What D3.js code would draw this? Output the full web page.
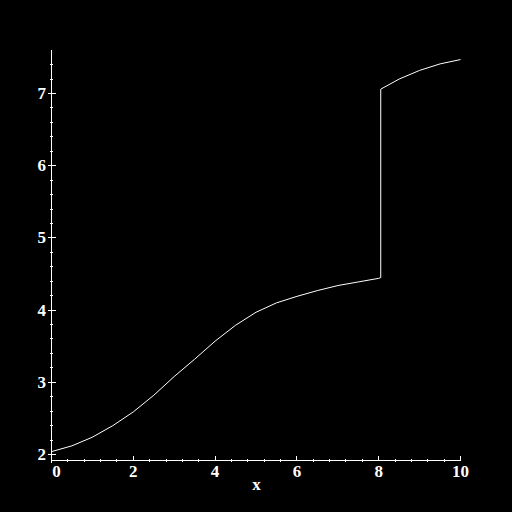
<!DOCTYPE html>
<html>
<head>
<meta charset="utf-8">
<script src="https://cdn.jsdelivr.net/npm/d3@7"></script>
<style>
  html, body { margin: 0; padding: 0; background: #000; }
  svg { display: block; }
  text { font-family: "Liberation Serif", "DejaVu Serif", serif; fill: #fff; font-weight: bold; }
</style>
</head>
<body>
<svg id="chart" width="512" height="512"></svg>
<script>
// ---- data ----
const xValues = [0, 0.5, 1.0, 1.5, 2.0, 2.5, 3.0, 3.5, 4.0, 4.5, 5.0, 5.5, 6.0, 6.5, 7.0, 7.5, 8.0, 8.05, 8.05, 8.5, 9.0, 9.5, 10.0];
const yValues = [2.04, 2.12, 2.24, 2.40, 2.59, 2.82, 3.08, 3.32, 3.57, 3.79, 3.97, 4.10, 4.19, 4.27, 4.34, 4.39, 4.44, 4.45, 7.06, 7.20, 7.32, 7.41, 7.47];
const xTickLabels = [0, 2, 4, 6, 8, 10];
const yTickLabels = [2, 3, 4, 5, 6, 7];
const xMinorStep = 0.4;
const yMinorStep = 0.2;
const xDomain = [0, 10];
const yDomain = [1.917, 7.596];
const xAxisTitle = "x";

// ---- scales ----
const svg = d3.select("#chart");
svg.append("rect").attr("width", 512).attr("height", 512).attr("fill", "#000");

const x = d3.scaleLinear().domain([0, 10]).range([51.5, 460.5]);
const y = d3.scaleLinear().domain([2, 7]).range([454.5, 93.5]);

const xMinor = d3.range(0, 10 + 1e-9, xMinorStep).filter(v => !xTickLabels.some(t => Math.abs(t - v) < 1e-6));
const yMinor = d3.range(2, yDomain[1], yMinorStep).filter(v => !yTickLabels.some(t => Math.abs(t - v) < 1e-6));

const g = svg.append("g").attr("shape-rendering", "crispEdges");

// x axis line
g.append("line")
  .attr("x1", x(xDomain[0])).attr("x2", x(xDomain[1]))
  .attr("y1", y(yDomain[0])).attr("y2", y(yDomain[0]))
  .attr("stroke", "#fff").attr("stroke-width", 1);
// y axis line
g.append("line")
  .attr("x1", x(0)).attr("x2", x(0))
  .attr("y1", y(yDomain[0]) + 3).attr("y2", y(yDomain[1]))
  .attr("stroke", "#fff").attr("stroke-width", 1);

const x0 = y(yDomain[0]);
const y0 = x(0);

// x major ticks
g.selectAll(".xmaj").data(xTickLabels).join("line")
  .attr("x1", d => x(d)).attr("x2", d => x(d))
  .attr("y1", x0 - 4).attr("y2", x0)
  .attr("stroke", "#fff");
// x minor ticks
g.selectAll(".xmin").data(xMinor).join("line")
  .attr("x1", d => Math.round(x(d) - 0.5) + 0.5).attr("x2", d => Math.round(x(d) - 0.5) + 0.5)
  .attr("y1", x0 - 1.5).attr("y2", x0 + 2)
  .attr("stroke", "#fff");
// y major ticks
g.selectAll(".ymaj").data(yTickLabels).join("line")
  .attr("x1", y0 - 4).attr("x2", y0 + 4)
  .attr("y1", d => y(d)).attr("y2", d => y(d))
  .attr("stroke", "#fff");
// y minor ticks
g.selectAll(".ymin").data(yMinor).join("line")
  .attr("x1", y0 - 2).attr("x2", y0 + 1.5)
  .attr("y1", d => Math.round(y(d) - 0.5) + 0.5).attr("y2", d => Math.round(y(d) - 0.5) + 0.5)
  .attr("stroke", "#fff");

// tick labels
svg.selectAll(".xl").data(xTickLabels).join("text")
  .attr("x", d => d === 0 ? x(d) + 5 : x(d))
  .attr("y", 476.5)
  .attr("text-anchor", "middle")
  .attr("font-size", 17)
  .text(d => d);

svg.selectAll(".yl").data(yTickLabels).join("text")
  .attr("x", y0 - 5.5)
  .attr("y", d => y(d) + 5.5)
  .attr("text-anchor", "end")
  .attr("font-size", 17)
  .text(d => d);

svg.append("text")
  .attr("x", 256.5).attr("y", 490)
  .attr("text-anchor", "middle")
  .attr("font-size", 17)
  .text(xAxisTitle);

// curve
const pts = xValues.map((v, i) => [v, yValues[i]]);
svg.append("path")
  .datum(pts)
  .attr("d", d3.line().x(d => x(d[0])).y(d => y(d[1])))
  .attr("fill", "none")
  .attr("stroke", "#fff")
  .attr("stroke-width", 1);
</script>
</body>
</html>
